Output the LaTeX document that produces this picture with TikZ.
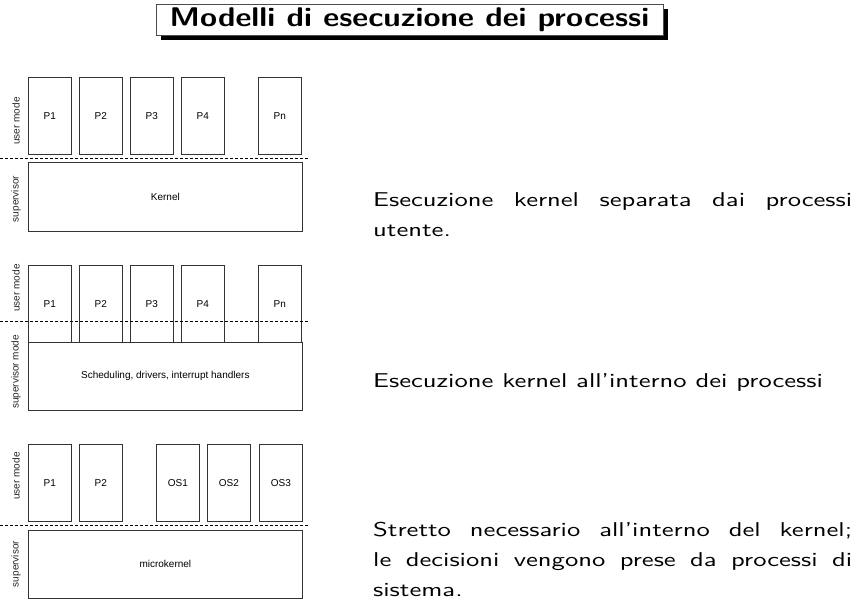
\documentclass[tikz,border=0pt]{standalone}
\usepackage{fontspec}
\newfontfamily\diafont{Liberation Sans}
\newfontfamily\descfont{lmsans10-regular.otf}[FakeStretch=1.33, Ligatures=TeX]
\newfontfamily\titlefont{lmsans10-bold.otf}[FakeStretch=1.15, Ligatures=TeX]
\usetikzlibrary{positioning,shadows}
\hyphenpenalty=10000
\exhyphenpenalty=10000

\tikzset{
  proc/.style={draw=black!80, line width=0.7pt, anchor=north west, inner sep=0pt,
    minimum width=43pt, minimum height=77pt, font=\diafont\fontsize{10}{12}\selectfont},
  layer/.style={proc, minimum width=274pt},
  mode/.style={rotate=90, inner sep=0pt, text=black!85, font=\diafont\fontsize{10}{12}\selectfont},
  sep/.style={dashed, line width=0.6pt, dash pattern=on 3pt off 2pt},
  desc/.style={anchor=base west, inner sep=0pt, text width=479pt, align=justify,
    font=\descfont\fontsize{20}{30}\selectfont}
}

\begin{document}
\begin{tikzpicture}[x=1pt,y=-1pt]
\useasboundingbox[fill=white] (0,0) rectangle (863,609);

% titolo
\node[draw=black!70, line width=0.6pt, fill=white, minimum width=507pt, minimum height=31pt,
  inner sep=0pt, drop shadow={shadow xshift=5pt, shadow yshift=-5pt, fill=black, opacity=1},
  font=\titlefont\fontsize{27}{30}\selectfont] (title) at (409.5,19.5)
  {Modelli di esecuzione dei processi};

% kernel separato
\foreach \x/\t [count=\i] in {28/P1,79/P2,130/P3,181/P4,258/Pn}
  \node[proc] (a\i) at (\x,77) {\t};
\node[layer, minimum height=69pt] (ka) at (28,162) {Kernel};
\coordinate (da1) at (0,158);
\coordinate (da2) at (308,158);
\draw[sep] (da1) -- (da2);
\node[mode] (ua) at (16,121) {user mode};
\node[mode] (sa) at (16,199) {supervisor};
\node[desc] (ta) at (373,207) {Esecuzione kernel separata dai processi utente.};

% kernel nei processi
\foreach \x/\t [count=\i] in {28/P1,79/P2,130/P3,181/P4,258/Pn}
  \node[proc] (b\i) at (\x,265) {\t};
\node[layer, minimum height=68pt] (kb) at (28,342) {Scheduling, drivers, interrupt handlers};
\coordinate (db1) at (0,321);
\coordinate (db2) at (308,321);
\draw[sep] (db1) -- (db2);
\node[mode] (ub) at (16,288) {user mode};
\node[mode] (sb) at (16,372) {supervisor mode};
\node[desc] (tb) at (373,388) {Esecuzione kernel all'interno dei processi};

% microkernel
\foreach \x/\t [count=\i] in {28/P1,79/P2,156/OS1,207/OS2,259/OS3}
  \node[proc] (c\i) at (\x,444) {\t};
\node[layer, minimum height=68pt] (kc) at (28,530) {microkernel};
\coordinate (dc1) at (0,525);
\coordinate (dc2) at (308,525);
\draw[sep] (dc1) -- (dc2);
\node[mode] (uc) at (16,476) {user mode};
\node[mode] (sc) at (16,564) {supervisor};
\node[desc] (tc) at (373,537) {Stretto necessario all'interno del kernel; le decisioni vengono prese da processi di sistema.};
\end{tikzpicture}
\end{document}
